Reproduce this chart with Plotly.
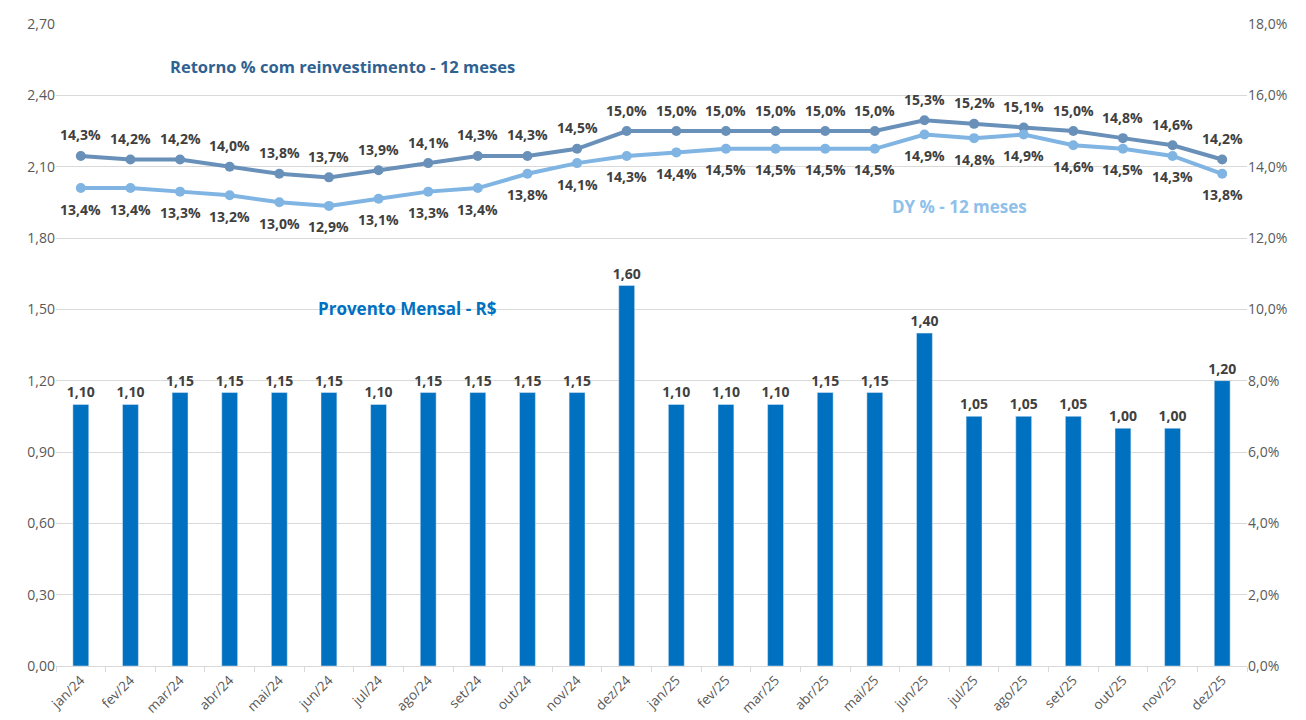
import plotly.graph_objects as go

months = ["jan/24","fev/24","mar/24","abr/24","mai/24","jun/24","jul/24","ago/24","set/24","out/24","nov/24","dez/24",
          "jan/25","fev/25","mar/25","abr/25","mai/25","jun/25","jul/25","ago/25","set/25","out/25","nov/25","dez/25"]
provento = [1.10,1.10,1.15,1.15,1.15,1.15,1.10,1.15,1.15,1.15,1.15,1.60,
            1.10,1.10,1.10,1.15,1.15,1.40,1.05,1.05,1.05,1.00,1.00,1.20]
retorno = [14.3,14.2,14.2,14.0,13.8,13.7,13.9,14.1,14.3,14.3,14.5,15.0,
           15.0,15.0,15.0,15.0,15.0,15.3,15.2,15.1,15.0,14.8,14.6,14.2]
dy = [13.4,13.4,13.3,13.2,13.0,12.9,13.1,13.3,13.4,13.8,14.1,14.3,
      14.4,14.5,14.5,14.5,14.5,14.9,14.8,14.9,14.6,14.5,14.3,13.8]

FONT = "Open Sans"
LBL = dict(family=FONT, size=14, color="#404040")

def br(v, d):
    return f"<b>{v:.{d}f}</b>".replace(".", ",")

fig = go.Figure()
fig.add_trace(go.Bar(
    x=months, y=provento, marker_color="#0070C0", width=0.32,
    text=[br(v, 2) for v in provento], textposition="outside", constraintext="none",
    textfont=LBL, cliponaxis=False, showlegend=False, hoverinfo="skip"))
fig.add_trace(go.Scatter(
    x=months, y=retorno, yaxis="y2", mode="lines+markers",
    line=dict(color="#6990B9", width=4), marker=dict(size=10, color="#6990B9"),
    cliponaxis=False, showlegend=False, hoverinfo="skip"))
fig.add_trace(go.Scatter(
    x=months, y=dy, yaxis="y2", mode="lines+markers",
    line=dict(color="#7FB4E3", width=4), marker=dict(size=10, color="#7FB4E3"),
    cliponaxis=False, showlegend=False, hoverinfo="skip"))

anns = []
for m, v in zip(months, retorno):
    anns.append(dict(x=m, y=v, xref="x", yref="y2", text=br(v, 1) + "<b>%</b>",
                     showarrow=False, yshift=21, font=LBL))
for m, v in zip(months, dy):
    anns.append(dict(x=m, y=v, xref="x", yref="y2", text=br(v, 1) + "<b>%</b>",
                     showarrow=False, yshift=-21, font=LBL))

W, H = 1306 - 56 - 59, 720 - 24 - 54
def pp(px, py):
    return (px - 56) / W, 1 - (py - 24) / H

titles = [("<b>Retorno % com reinvestimento - 12 meses</b>", 168, 67, "#2F6191", 16.5),
          ("<b>Provento Mensal - R$</b>", 316, 308, "#0070C0", 17),
          ("<b>DY % - 12 meses</b>", 890, 207, "#8EC0EA", 17)]
for t, px, py, c, s in titles:
    x, y = pp(px, py)
    anns.append(dict(text=t, x=x, y=y, xref="paper", yref="paper", xanchor="left",
                     yanchor="middle", showarrow=False, font=dict(family=FONT, size=s, color=c)))

fig.update_layout(
    width=1306, height=720, separators=",.",
    margin=dict(l=56, r=59, t=24, b=54),
    plot_bgcolor="white", paper_bgcolor="white",
    font=dict(family=FONT, color="#595959", size=14),
    xaxis=dict(type="category", range=[-0.5, 23.5], tickangle=-45, showgrid=False, showline=True,
               automargin=False, linecolor="#D9D9D9", linewidth=1, ticks="outside",
               tickson="boundaries", ticklen=5, tickcolor="#D9D9D9",
               tickfont=dict(size=13.5, color="#595959")),
    yaxis=dict(range=[0, 2.7], dtick=0.3, tickformat=".2f", showgrid=True, automargin=False,
               gridcolor="#D9D9D9", zeroline=False, tickfont=dict(size=14, color="#595959")),
    yaxis2=dict(range=[0, 18], dtick=2, tickformat=".1f", ticksuffix="%", overlaying="y",
                side="right", showgrid=False, zeroline=False, automargin=False,
                tickfont=dict(size=14, color="#595959")),
    annotations=anns,
)

fig.write_html("out.html")
